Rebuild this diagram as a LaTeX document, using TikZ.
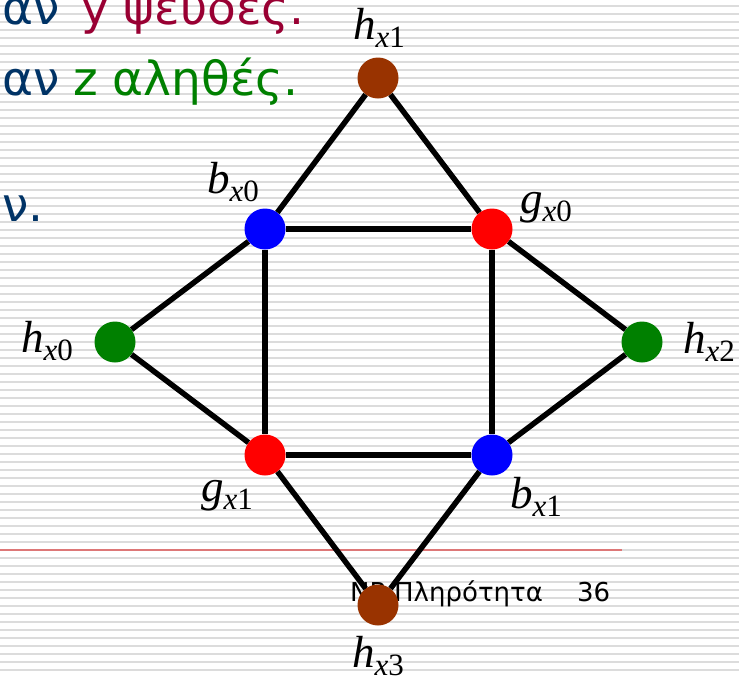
\documentclass[tikz,border=0pt]{standalone}
\usepackage{fontspec}
\usepackage{xcolor}
\usepackage{tikz}
\usetikzlibrary{positioning}

\newfontfamily\grfont{DejaVu Sans}
\newfontfamily\lblfont{Liberation Serif}

\definecolor{navytxt}{RGB}{0,51,102}
\definecolor{redtxt}{RGB}{153,0,51}
\definecolor{greentxt}{RGB}{0,128,0}
\definecolor{stripegray}{RGB}{220,220,220}
\definecolor{rulered}{RGB}{221,119,119}
\definecolor{brownv}{RGB}{153,51,0}

% vertex label: h_{x1} and the like
\newcommand{\vlab}[2]{\textit{#1}\raisebox{-8pt}{\fontsize{31}{31}\selectfont\textit{x}#2}}

\begin{document}
\begin{tikzpicture}[x=1pt, y=-1pt,
vert/.style={circle, inner sep=0pt, minimum size=41pt},
lbl/.style={font=\lblfont\fontsize{45}{50}\selectfont, inner sep=0pt, anchor=base west},
txt/.style={font=\grfont\fontsize{47}{54}\selectfont, inner sep=0pt, anchor=base west},
foot/.style={font=\grfont\fontsize{26}{30}\selectfont, inner sep=0pt, anchor=base west},
edge/.style={line width=5.5pt, black}
]
\useasboundingbox (0,0) rectangle (739,675);
\clip (0,0) rectangle (739,675);
\fill[white] (0,0) rectangle (739,675);

% striped slide background
\foreach \k in {0,...,83}
  \draw[stripegray, line width=2pt] (0,5.7+8*\k) -- (739,5.7+8*\k);
\draw[rulered, line width=2pt] (0,549.7) -- (622,549.7);

% slide text
\node[txt, navytxt] (av1) at (2,24) {αν};
\node[txt, redtxt] (false) at (81,24) {y ψευδές.};
\node[txt, navytxt] (av2) at (2,95) {αν};
\node[txt, greentxt] (true) at (73,95) {z αληθές.};
\node[txt, anchor=base east, navytxt] (line3) at (44,221) {ν.};
\node[foot] (title) at (350,601) {NP-Πληρότητα};
\node[foot] (pageno) at (577,601) {36};

% vertices
\node[vert, fill=brownv] (hx1) at (378,78) {};
\node[vert, fill=blue] (bx0) at (265,229) {};
\node[vert, fill=red] (gx0) at (492,229) {};
\node[vert, fill=greentxt] (hx0) at (115,342) {};
\node[vert, fill=greentxt] (hx2) at (642,342) {};
\node[vert, fill=red] (gx1) at (265,455) {};
\node[vert, fill=blue] (bx1) at (492,455) {};
\node[vert, fill=brownv] (hx3) at (378,605) {};

% edges
\draw[edge] (hx1) -- (bx0);
\draw[edge] (hx1) -- (gx0);
\draw[edge] (bx0) -- (gx0);
\draw[edge] (bx0) -- (gx1);
\draw[edge] (gx0) -- (bx1);
\draw[edge] (gx1) -- (bx1);
\draw[edge] (hx0) -- (bx0);
\draw[edge] (hx0) -- (gx1);
\draw[edge] (hx2) -- (gx0);
\draw[edge] (hx2) -- (bx1);
\draw[edge] (hx3) -- (gx1);
\draw[edge] (hx3) -- (bx1);

% vertex labels
\node[lbl] (lhx1) at (353,39) {\vlab{h}{1}};
\node[lbl] (lbx0) at (207,193) {\vlab{b}{0}};
\node[lbl] (lgx0) at (520,213) {\vlab{g}{0}};
\node[lbl] (lhx0) at (21,352) {\vlab{h}{0}};
\node[lbl] (lhx2) at (683,353) {\vlab{h}{2}};
\node[lbl] (lgx1) at (201,501) {\vlab{g}{1}};
\node[lbl] (lbx1) at (510,508) {\vlab{b}{1}};
\node[lbl] (lhx3) at (352,667) {\vlab{h}{3}};
\end{tikzpicture}
\end{document}
